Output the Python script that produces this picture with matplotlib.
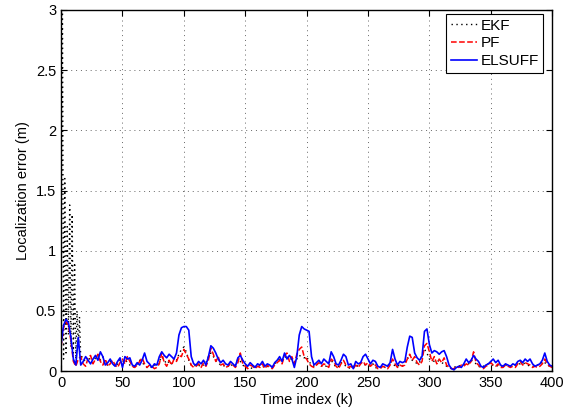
import numpy as np
import matplotlib
matplotlib.use("Agg")
import matplotlib.pyplot as plt

plt.rcParams['font.family'] = ['Liberation Sans', 'DejaVu Sans']

# time index of the PF / ELSUFF samples (every 2nd step)
k_step2 = list(range(0, 401, 2))

elsuff = [
    0.22, 0.38, 0.43, 0.40, 0.28, 0.10, 0.05, 0.28, 0.05, 0.08,
    0.12, 0.09, 0.06, 0.10, 0.13, 0.09, 0.16, 0.12, 0.05, 0.07,
    0.10, 0.06, 0.04, 0.08, 0.11, 0.03, 0.12, 0.10, 0.11, 0.05,
    0.04, 0.07, 0.05, 0.09, 0.15, 0.08, 0.06, 0.03, 0.06, 0.05,
    0.12, 0.16, 0.13, 0.11, 0.14, 0.12, 0.10, 0.15, 0.30, 0.36,
    0.37, 0.37, 0.34, 0.12, 0.06, 0.05, 0.08, 0.06, 0.09, 0.05,
    0.12, 0.21, 0.19, 0.15, 0.10, 0.07, 0.09, 0.06, 0.05, 0.08,
    0.06, 0.04, 0.11, 0.13, 0.09, 0.06, 0.04, 0.07, 0.05, 0.03,
    0.06, 0.05, 0.08, 0.04, 0.06, 0.05, 0.03, 0.07, 0.09, 0.12,
    0.08, 0.15, 0.10, 0.13, 0.10, 0.03, 0.12, 0.30, 0.37, 0.35,
    0.34, 0.33, 0.12, 0.05, 0.07, 0.09, 0.06, 0.10, 0.08, 0.06,
    0.16, 0.12, 0.06, 0.05, 0.09, 0.14, 0.12, 0.05, 0.06, 0.02,
    0.08, 0.06, 0.07, 0.12, 0.14, 0.10, 0.06, 0.09, 0.08, 0.04,
    0.03, 0.06, 0.05, 0.04, 0.07, 0.18, 0.10, 0.05, 0.08, 0.07,
    0.08, 0.20, 0.29, 0.28, 0.15, 0.11, 0.09, 0.12, 0.33, 0.35,
    0.22, 0.15, 0.17, 0.16, 0.14, 0.16, 0.17, 0.12, 0.05, 0.02,
    0.01, 0.03, 0.04, 0.03, 0.06, 0.10, 0.07, 0.09, 0.13, 0.10,
    0.08, 0.04, 0.03, 0.05, 0.06, 0.08, 0.10, 0.07, 0.09, 0.05,
    0.04, 0.06, 0.05, 0.04, 0.06, 0.05, 0.08, 0.09, 0.07, 0.10,
    0.08, 0.10, 0.06, 0.04, 0.05, 0.06, 0.09, 0.15, 0.08, 0.05,
    0.04,
]

pf = [
    0.20, 0.36, 0.41, 0.38, 0.25, 0.08, 0.04, 0.10, 0.12, 0.06,
    0.04, 0.11, 0.13, 0.06, 0.10, 0.14, 0.08, 0.05, 0.10, 0.04,
    0.06, 0.09, 0.05, 0.03, 0.07, 0.10, 0.06, 0.12, 0.08, 0.04,
    0.03, 0.05, 0.08, 0.11, 0.06, 0.03, 0.05, 0.04, 0.02, 0.03,
    0.06, 0.15, 0.07, 0.04, 0.09, 0.05, 0.10, 0.08, 0.13, 0.12,
    0.18, 0.14, 0.10, 0.05, 0.03, 0.04, 0.06, 0.03, 0.07, 0.04,
    0.09, 0.19, 0.14, 0.08, 0.12, 0.05, 0.06, 0.03, 0.04, 0.06,
    0.05, 0.03, 0.07, 0.15, 0.06, 0.04, 0.02, 0.05, 0.04, 0.02,
    0.04, 0.03, 0.06, 0.02, 0.05, 0.03, 0.02, 0.05, 0.07, 0.09,
    0.06, 0.13, 0.15, 0.08, 0.12, 0.06, 0.14, 0.18, 0.20, 0.12,
    0.10, 0.06, 0.04, 0.03, 0.05, 0.07, 0.04, 0.06, 0.05, 0.03,
    0.10, 0.08, 0.04, 0.02, 0.06, 0.09, 0.05, 0.03, 0.04, 0.02,
    0.05, 0.03, 0.06, 0.08, 0.05, 0.07, 0.04, 0.06, 0.05, 0.02,
    0.02, 0.04, 0.03, 0.02, 0.05, 0.10, 0.06, 0.03, 0.05, 0.04,
    0.05, 0.10, 0.14, 0.09, 0.12, 0.07, 0.05, 0.08, 0.21, 0.23,
    0.16, 0.08, 0.12, 0.06, 0.10, 0.07, 0.11, 0.05, 0.03, 0.02,
    0.02, 0.04, 0.03, 0.05, 0.04, 0.06, 0.05, 0.08, 0.16, 0.07,
    0.05, 0.03, 0.02, 0.04, 0.05, 0.07, 0.05, 0.04, 0.06, 0.03,
    0.03, 0.05, 0.04, 0.03, 0.04, 0.03, 0.06, 0.08, 0.05, 0.07,
    0.06, 0.05, 0.03, 0.04, 0.03, 0.04, 0.06, 0.10, 0.06, 0.04,
    0.03,
]

# EKF: every step for k = 0..17, then every 2nd step
ekf_k = list(range(0, 18)) + list(range(18, 401, 2))
ekf = [
    0.25, 3.40, 0.10, 1.60, 0.15, 1.20, 0.30, 1.38, 0.20, 1.30,
    0.15, 0.90, 0.10, 0.50, 0.20, 0.45, 0.10, 0.12,
    0.10, 0.08, 0.12, 0.09, 0.07, 0.11, 0.13, 0.09, 0.12, 0.06,
    0.05, 0.08, 0.07, 0.04, 0.06, 0.09, 0.05, 0.10, 0.07, 0.05,
    0.04, 0.03, 0.06, 0.09, 0.07, 0.05, 0.03, 0.04, 0.03, 0.05,
    0.04, 0.08, 0.12, 0.09, 0.06, 0.08, 0.06, 0.11, 0.09, 0.14,
    0.18, 0.20, 0.16, 0.09, 0.05, 0.04, 0.05, 0.04, 0.06, 0.05,
    0.07, 0.12, 0.15, 0.12, 0.09, 0.07, 0.05, 0.04, 0.05, 0.04,
    0.06, 0.04, 0.05, 0.10, 0.08, 0.05, 0.03, 0.04, 0.03, 0.02,
    0.04, 0.03, 0.05, 0.04, 0.03, 0.04, 0.03, 0.04, 0.06, 0.08,
    0.10, 0.08, 0.11, 0.13, 0.09, 0.10, 0.07, 0.10, 0.13, 0.12,
    0.11, 0.12, 0.08, 0.05, 0.04, 0.06, 0.05, 0.04, 0.05, 0.04,
    0.07, 0.09, 0.06, 0.03, 0.04, 0.07, 0.06, 0.04, 0.03, 0.02,
    0.04, 0.05, 0.04, 0.07, 0.06, 0.05, 0.05, 0.04, 0.06, 0.03,
    0.02, 0.03, 0.04, 0.03, 0.04, 0.08, 0.07, 0.04, 0.04, 0.05,
    0.04, 0.07, 0.11, 0.10, 0.09, 0.08, 0.06, 0.07, 0.14, 0.18,
    0.15, 0.10, 0.09, 0.08, 0.09, 0.08, 0.07, 0.06, 0.04, 0.03,
    0.02, 0.03, 0.04, 0.04, 0.05, 0.05, 0.06, 0.06, 0.09, 0.08,
    0.06, 0.04, 0.03, 0.04, 0.05, 0.06, 0.05, 0.05, 0.05, 0.04,
    0.03, 0.04, 0.05, 0.04, 0.04, 0.05, 0.05, 0.06, 0.06, 0.07,
    0.06, 0.05, 0.04, 0.04, 0.04, 0.05, 0.05, 0.08, 0.07, 0.05,
    0.04, 0.03,
]

x_ticks = [0, 50, 100, 150, 200, 250, 300, 350, 400]
y_ticks = [0, 0.5, 1, 1.5, 2, 2.5, 3]
y_tick_labels = ['0', '0.5', '1', '1.5', '2', '2.5', '3']

fig = plt.figure(figsize=(5.71, 4.16), dpi=100)
ax = fig.add_axes([0.107, 0.108, 0.860, 0.868])

ax.plot(ekf_k, ekf, color='black', linestyle=(0, (1, 2.5)), linewidth=1.0, label='EKF')
ax.plot(k_step2, pf, color='red', linestyle='--', linewidth=1.1, label='PF')
ax.plot(k_step2, elsuff, color='blue', linestyle='-', linewidth=1.2, label='ELSUFF')

ax.set_xlim(0, 400)
ax.set_ylim(0, 3)
ax.set_xticks(x_ticks)
ax.set_yticks(y_ticks)
ax.set_yticklabels(y_tick_labels)
ax.tick_params(direction='in', top=True, right=True, labelsize=10.5, length=4)
ax.grid(True, linestyle=(0, (1, 4)), color='#666666', linewidth=0.7)
for s in ax.spines.values():
    s.set_linewidth(1.0)

ax.set_xlabel('Time index (k)', fontsize=10.5, labelpad=2)
ax.set_ylabel('Localization error (m)', fontsize=10.5, labelpad=4)

leg = ax.legend(loc='upper right', bbox_to_anchor=(1 - 9 / 491, 1 - 4 / 361),
                fontsize=11, fancybox=False, framealpha=1, edgecolor='black',
                handlelength=1.7, handletextpad=0.25, borderpad=0.3,
                labelspacing=0.25, borderaxespad=0)
leg.get_frame().set_linewidth(0.8)

fig.savefig('out.png', dpi=100)
